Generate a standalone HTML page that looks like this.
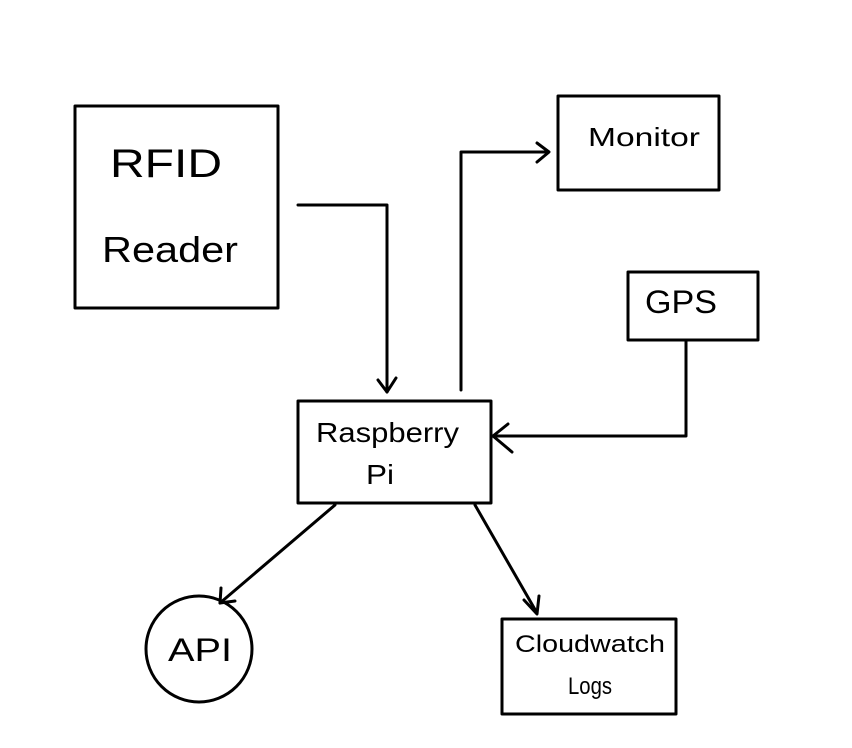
<!DOCTYPE html>
<html><head><meta charset="utf-8"><style>
html,body{margin:0;padding:0;background:#fff;}
svg{display:block;}
text{font-family:"Liberation Sans",sans-serif;fill:#000;}
</style></head><body>
<svg width="852" height="748" viewBox="0 0 852 748" xmlns="http://www.w3.org/2000/svg">
<g fill="none" stroke="#000" stroke-width="3" stroke-linejoin="round" stroke-linecap="round">
<rect x="75" y="106" width="203" height="202"/>
<rect x="558" y="96" width="161" height="94"/>
<rect x="628" y="272" width="130" height="68"/>
<rect x="298" y="401" width="193" height="102"/>
<circle cx="199" cy="649" r="53"/>
<rect x="502" y="619" width="174" height="95"/>
<polyline points="298,205 387,205 387,392"/>
<polyline points="378,380 387,392 396,378"/>
<polyline points="461,390 461,152 548,152"/>
<polyline points="537,143 549,152 537,162"/>
<polyline points="686,340 686,436 493,436"/>
<polyline points="508,424 493,436 512,452"/>
<line x1="335" y1="505" x2="220" y2="603"/>
<polyline points="221,588 220,603 235,601"/>
<line x1="475" y1="505" x2="537" y2="613"/>
<polyline points="524,600 537,614 539,596"/>
</g>
<g font-weight="300">
<text x="110" y="177" font-size="40" textLength="112" lengthAdjust="spacingAndGlyphs">RFID</text>
<text x="102" y="262" font-size="36" textLength="136" lengthAdjust="spacingAndGlyphs">Reader</text>
<text x="588" y="146" font-size="26" textLength="112" lengthAdjust="spacingAndGlyphs">Monitor</text>
<text x="645" y="313" font-size="32" textLength="72" lengthAdjust="spacingAndGlyphs">GPS</text>
<text x="316" y="442" font-size="28" textLength="143" lengthAdjust="spacingAndGlyphs">Raspberry</text>
<text x="366" y="484" font-size="28" textLength="28" lengthAdjust="spacingAndGlyphs">Pi</text>
<text x="168" y="661" font-size="32" textLength="64" lengthAdjust="spacingAndGlyphs">API</text>
<text x="515" y="652" font-size="24" textLength="150" lengthAdjust="spacingAndGlyphs">Cloudwatch</text>
<text x="568" y="694" font-size="24" textLength="44" lengthAdjust="spacingAndGlyphs">Logs</text>
</g>
</svg>
</body></html>
